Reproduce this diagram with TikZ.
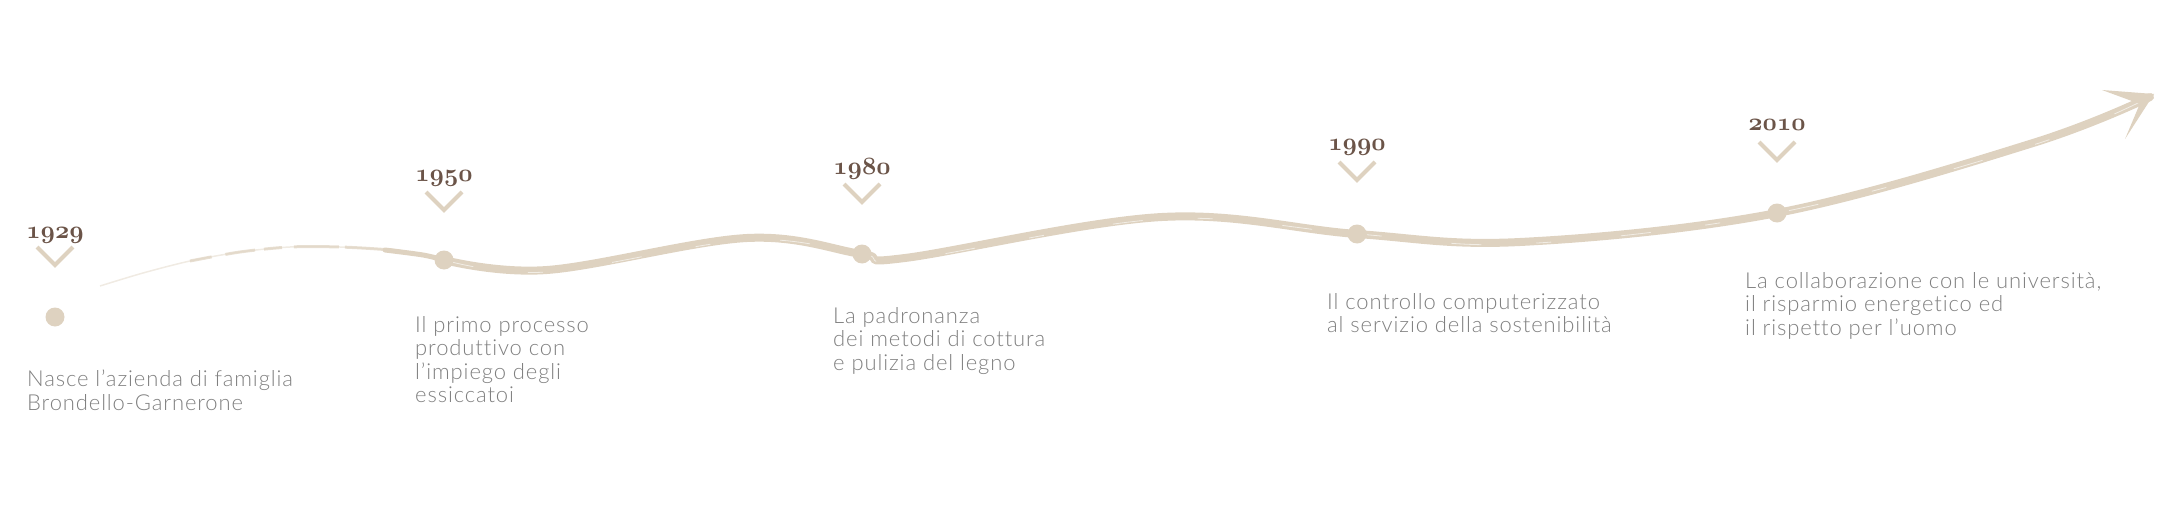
\documentclass[tikz,border=0pt]{standalone}
\usepackage{fontspec}
\newfontfamily\descfont{Lato Light}[LetterSpace=4, Ligatures=CommonOff]
\newcommand\yearfont{\fontencoding{OML}\fontfamily{cmm}\fontseries{b}\fontshape{it}\fontsize{26}{26}\selectfont}
\definecolor{beige}{RGB}{222,210,192}
\definecolor{yearbrown}{RGB}{107,84,72}
\definecolor{descgray}{RGB}{128,128,128}
\tikzset{
  dot/.style={circle, fill=beige, inner sep=0pt, minimum size=19pt},
  yearlabel/.style={font=\yearfont, text=yearbrown, inner sep=0pt, anchor=base},
  chevron/.style={draw=beige, line width=4pt},
  desc/.style={font=\descfont\fontsize{22}{23.5}\selectfont, text=descgray, align=left, inner sep=0pt, anchor=north west},
  brush/.style={draw=beige, line width=8pt, line cap=round},
}
\begin{document}
\begin{tikzpicture}[x=1pt, y=-1pt]
\useasboundingbox (0,0) rectangle (2160,508);
% points on the timeline
\coordinate (t1929) at (55,317);
\coordinate (t1950) at (444,260);
\coordinate (t1980) at (862,254);
\coordinate (t1990) at (1357,234);
\coordinate (t2010) at (1777,213);
\coordinate (tip) at (2150,97);
% faint start of the stroke
\draw[beige, line width=1.5pt, opacity=0.45]
  plot[smooth] coordinates {(100,286) (143,273) (190,261) (240,252) (290,247) (340,247) (390,250) (423,255) (t1950)};
\draw[beige, line width=3pt, opacity=0.7, dash pattern=on 22pt off 14pt on 30pt off 9pt on 18pt off 12pt on 45pt off 6pt on 60pt off 3pt]
  plot[smooth] coordinates {(190,261) (240,252) (290,247) (340,247) (390,250) (423,255) (t1950)};
\draw[brush, line width=5pt] plot[smooth] coordinates {(385,250) (423,255) (t1950)};
% main stroke
\draw[brush] plot[smooth, tension=0.6] coordinates {(t1950) (547,270) (747,238) (t1980) (905,258) (1162,217) (t1990) (1520,242) (t2010) (2033,143) (tip)};
\draw[white, line width=0.8pt, opacity=0.6, dash pattern=on 30pt off 55pt on 15pt off 70pt]
  plot[smooth, tension=0.6] coordinates {(t1950) (547,272) (747,240) (t1980) (905,260) (1162,219) (t1990) (1520,244) (t2010) (2033,145) (tip)};
% arrow head
\fill[beige] (2102,90) -- (2154,94) -- (2140,104) -- cycle;
\fill[beige] (2154,94) -- (2125,139) -- (2141,101) -- cycle;
% dots
\node[dot] (d1929) at (t1929) {};
\node[dot] (d1950) at (t1950) {};
\node[dot] (d1980) at (t1980) {};
\node[dot] (d1990) at (t1990) {};
\node[dot] (d2010) at (t2010) {};
% years
\node[yearlabel] (y1929) at (55,238) {1929};
\node[yearlabel] (y1950) at (444,182) {1950};
\node[yearlabel] (y1980) at (862,174) {1980};
\node[yearlabel] (y1990) at (1357,150) {1990};
\node[yearlabel] (y2010) at (1777,131) {2010};
% chevrons
\draw[chevron] (d1929) ++(-18,-70) -- ++(18,18) -- ++(18,-18);
\draw[chevron] (d1950) ++(-18,-68) -- ++(18,18) -- ++(18,-18);
\draw[chevron] (d1980) ++(-18,-70) -- ++(18,18) -- ++(18,-18);
\draw[chevron] (d1990) ++(-18,-72) -- ++(18,18) -- ++(18,-18);
\draw[chevron] (d2010) ++(-18,-71) -- ++(18,18) -- ++(18,-18);
% texts
\node[desc] (n1929) at (27,370) {Nasce l’azienda di famiglia\\Brondello-Garnerone};
\node[desc] (n1950) at (415,316) {Il primo processo\\produttivo con\\l’impiego degli\\essiccatoi};
\node[desc] (n1980) at (833,307) {La padronanza\\dei metodi di cottura\\e pulizia del legno};
\node[desc] (n1990) at (1327,293) {Il controllo computerizzato\\al servizio della sostenibilità};
\node[desc] (n2010) at (1745,272) {La collaborazione con le università,\\il risparmio energetico ed\\il rispetto per l’uomo};
\end{tikzpicture}
\end{document}
